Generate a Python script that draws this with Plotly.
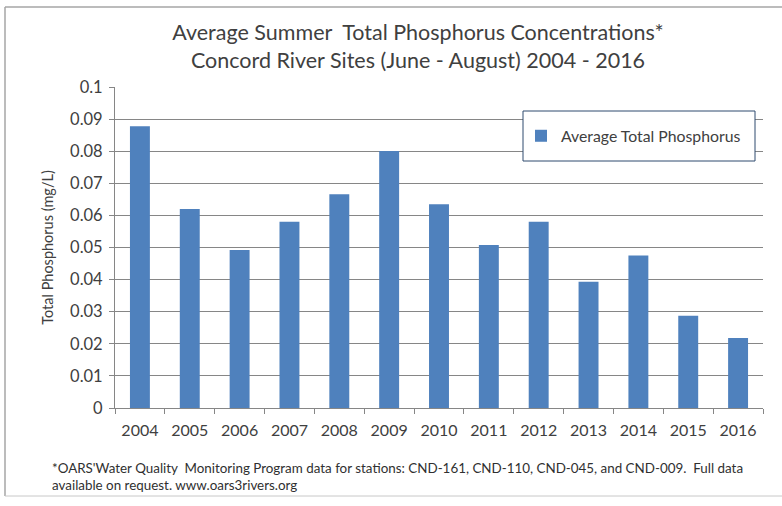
import plotly.graph_objects as go

years = ["2004", "2005", "2006", "2007", "2008", "2009", "2010",
         "2011", "2012", "2013", "2014", "2015", "2016"]
avg_tp = [0.0878, 0.0620, 0.0492, 0.0580, 0.0666, 0.0801, 0.0635,
          0.0508, 0.0580, 0.0393, 0.0475, 0.0287, 0.0218]
y_ticks = [0, 0.01, 0.02, 0.03, 0.04, 0.05, 0.06, 0.07, 0.08, 0.09, 0.1]
y_tick_labels = ["0", "0.01", "0.02", "0.03", "0.04", "0.05", "0.06",
                 "0.07", "0.08", "0.09", "0.1"]

FONT = "Lato"
TXT = "#404040"

W, H = 782, 506
ML, MR, MT, MB = 115, 19, 87, 98
plot_w = W - ML - MR
plot_h = H - MT - MB


def px_x(px):
    return (px - ML) / plot_w


def px_y(py):
    return (H - MB - py) / plot_h


border = dict(color="#A6A6A6", width=1.5)

fig = go.Figure()
fig.add_trace(go.Bar(
    x=years, y=avg_tp, name="Average Total Phosphorus",
    marker=dict(color="#4F81BD", line=dict(width=0)),
    showlegend=True,
))

fig.update_layout(
    width=W, height=H,
    margin=dict(l=ML, r=MR, t=MT, b=MB),
    paper_bgcolor="white", plot_bgcolor="white",
    bargap=0.6,
    font=dict(family=FONT, color=TXT, size=13),
    title=dict(
        text="Average Summer  Total Phosphorus Concentrations*<br>Concord River Sites (June - August) 2004 - 2016",
        x=418 / W, xanchor="center", y=1 - 40 / H, yanchor="top",
        font=dict(family=FONT, size=21.5, color=TXT),
    ),
    showlegend=True,
    legend=dict(
        x=px_x(521), xanchor="left", y=px_y(136), yanchor="middle",
        bgcolor="rgba(0,0,0,0)", borderwidth=0,
        font=dict(family=FONT, size=15.8, color=TXT),
        itemwidth=30,
    ),
    xaxis=dict(
        type="category", showgrid=False,
        showline=True, linecolor="#868686", linewidth=1,
        ticks="outside", tickson="boundaries", ticklen=5, tickcolor="#868686",
        tickfont=dict(family=FONT, size=16, color=TXT),
        ticklabelstandoff=8,
    ),
    yaxis=dict(
        range=[0, 0.1], tickvals=y_ticks, ticktext=y_tick_labels,
        showgrid=True, gridcolor="#868686", gridwidth=1,
        showline=True, linecolor="#868686", linewidth=1,
        ticks="outside", ticklen=5, tickcolor="#868686",
        tickfont=dict(family=FONT, size=16.5, color=TXT),
        ticklabelstandoff=3,
        title=dict(text="Total Phosphorus (mg/L)",
                   font=dict(family=FONT, size=14.5, color=TXT), standoff=13),
        zeroline=False,
    ),
    shapes=[
        # outer chart border (left, top, bottom)
        dict(type="line", xref="paper", yref="paper",
             x0=px_x(5), x1=px_x(5), y0=px_y(496), y1=px_y(7), line=border),
        dict(type="line", xref="paper", yref="paper",
             x0=px_x(5), x1=px_x(782), y0=px_y(7), y1=px_y(7), line=border),
        dict(type="line", xref="paper", yref="paper",
             x0=px_x(5), x1=px_x(782), y0=px_y(496), y1=px_y(496),
             line=dict(color="#C8C8C8", width=1)),
        # legend box
        dict(type="rect", xref="paper", yref="paper",
             x0=px_x(523), x1=px_x(755), y0=px_y(161), y1=px_y(111),
             line=dict(color="#2F4A6E", width=1), fillcolor="white", layer="above"),
    ],
)

fig.add_annotation(
    xref="paper", yref="paper", x=px_x(50), y=px_y(458), xanchor="left", yanchor="top",
    align="left", showarrow=False,
    text="*OARS'Water Quality  Monitoring Program data for stations: CND-161, CND-110, CND-045, and CND-009.  Full data<br>available on request. www.oars3rivers.org",
    font=dict(family=FONT, size=13.4, color="#303030"),
)

fig.write_html("out.html", config={"displayModeBar": False},
               post_script="document.body.style.margin='0';")
